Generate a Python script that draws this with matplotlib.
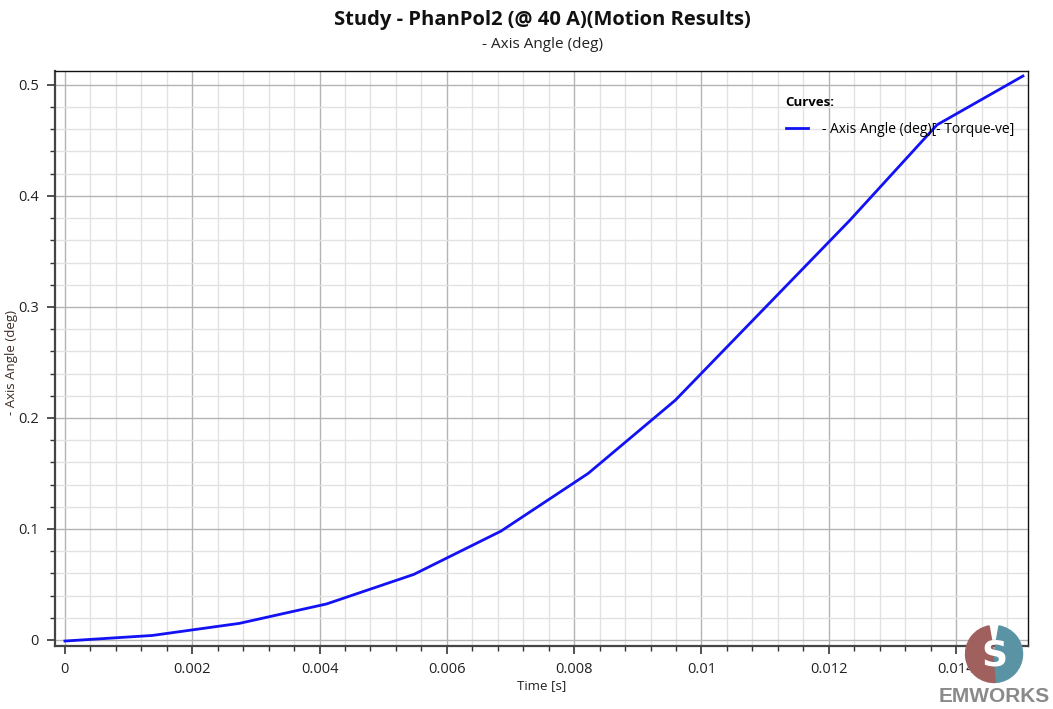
import numpy as np
import matplotlib
matplotlib.use("Agg")
import matplotlib.pyplot as plt
from matplotlib.ticker import MultipleLocator, FuncFormatter
from matplotlib.patches import Wedge

plt.rcParams['font.family'] = ['Open Sans', 'DejaVu Sans']

# Motion results: shaft angle vs time
time_s = [0.0, 0.00137, 0.00274, 0.00411, 0.00548, 0.00685, 0.00822,
          0.00959, 0.01096, 0.01233, 0.0137, 0.01505]
angle_deg = [-0.001, 0.004, 0.0149, 0.0324, 0.059, 0.098, 0.150,
             0.216, 0.297, 0.378, 0.464, 0.508]

title = "Study - PhanPol2 (@ 40 A)(Motion Results)"
subtitle = "- Axis Angle (deg)"
curve_label = "- Axis Angle (deg)[- Torque-ve]"

fig = plt.figure(figsize=(10.53, 7.09), dpi=100)
ax = fig.add_axes([0.0526, 0.0893, 0.9237, 0.811])

ax.plot(time_s, angle_deg, color="#1212f5", lw=2.0, label=curve_label)

ax.set_xlim(-0.00015, 0.01513)
ax.set_ylim(-0.0052, 0.5128)

ax.xaxis.set_major_locator(MultipleLocator(0.002))
ax.xaxis.set_minor_locator(MultipleLocator(0.0004))
ax.yaxis.set_major_locator(MultipleLocator(0.1))
ax.yaxis.set_minor_locator(MultipleLocator(0.02))

def fmt(v, pos):
    s = "%.3f" % v
    s = s.rstrip("0").rstrip(".")
    return "0" if s in ("-0", "") else s

ax.xaxis.set_major_formatter(FuncFormatter(fmt))
ax.yaxis.set_major_formatter(FuncFormatter(fmt))

ax.grid(which="major", color="#b4b4b4", lw=1.0)
ax.grid(which="minor", color="#e2e2e2", lw=1.0)
ax.set_axisbelow(True)

ax.tick_params(which="major", direction="out", length=6, width=1.2,
               color="#333333", labelsize=10.5, labelcolor="#222222", pad=6)
ax.tick_params(which="minor", direction="out", length=3.5, width=1.0,
               color="#333333")

for side in ("left", "bottom"):
    ax.spines[side].set_linewidth(1.6)
    ax.spines[side].set_color("#444444")
for side in ("top", "right"):
    ax.spines[side].set_linewidth(1.0)
    ax.spines[side].set_color("#111111")

ax.set_xlabel("Time [s]", fontsize=9.5, color="#222222")
ax.xaxis.set_label_coords(0.5, -0.058)
ax.set_ylabel("- Axis Angle (deg)", fontsize=9.5, color="#3a2a22")
ax.yaxis.set_label_coords(-0.038, 0.493)

fig.text(0.515, 0.972, title, ha="center", va="center",
         fontsize=14.5, fontweight="bold", color="#111111")
fig.text(0.515, 0.937, subtitle, ha="center", va="center",
         fontsize=11, color="#222222")

leg = ax.legend(loc="upper left", bbox_to_anchor=(0.745, 0.965),
                frameon=False, title="Curves:", fontsize=10,
                handlelength=1.6, handletextpad=1.0, borderaxespad=0,
                labelspacing=0.6)
leg.get_title().set_fontweight("bold")
leg.get_title().set_fontsize(9.5)
leg._legend_box.align = "left"
leg._legend_box.sep = 9

# EMWORKS badge in the lower right corner
logo = fig.add_axes([0.9155, 0.0353, 0.057, 0.0846])
logo.set_xlim(-1, 1)
logo.set_ylim(-1, 1)
logo.set_aspect("equal")
logo.axis("off")
logo.add_patch(Wedge((0, 0), 0.95, 100, 275, color="#a0605e"))
logo.add_patch(Wedge((0, 0), 0.95, -85, 80, color="#5a94a4"))
logo.text(0.0, -0.05, "S", ha="center", va="center", fontsize=26,
          fontweight="bold", color="white", family="DejaVu Sans")
fig.text(0.944, 0.017, "EMWORKS", ha="center", va="center", fontsize=15,
         fontweight="bold", color="#8a8a8a", family="Liberation Sans")

fig.savefig("out.png", dpi=100)
